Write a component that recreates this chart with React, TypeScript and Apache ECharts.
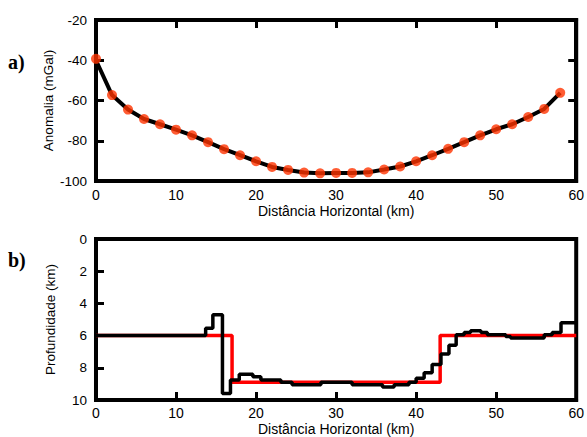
import React, { useEffect, useRef } from "react";
import * as echarts from "echarts";

// Panel a) — observed gravity anomaly (mGal) at horizontal distance (km)
const obsDist = [0, 2, 4, 6, 8, 10, 12, 14, 16, 18, 20, 22, 24, 26, 28, 30, 32, 34, 36, 38, 40, 42, 44, 46, 48, 50, 52, 54, 56, 58];
const obsAnomaly = [-39.3, -57.3, -64.5, -69.2, -71.8, -74.5, -77.3, -80.7, -84.2, -87.2, -90.2, -93, -94.5, -95.8, -96.2, -96, -96, -95.7, -94.3, -92.8, -90.2, -87.2, -84, -80.7, -77.3, -74.3, -71.8, -68.2, -64.2, -56.2];
const calcAnomaly = [-40, -57.3, -64.5, -69.2, -71.8, -74.5, -77.3, -80.7, -84.2, -87.2, -90.2, -93, -94.5, -95.8, -96.2, -96, -96, -95.7, -94.3, -92.8, -90.2, -87.2, -84, -80.7, -77.3, -74.3, -71.8, -68.2, -64.2, -56.2];

// Panel b) — depth models (km), piecewise constant between edges
const trueEdges = [0, 17, 43, 60];
const trueDepth = [6, 8.9, 6];
const invEdges = [0, 13.7, 14.6, 15.8, 16.8, 17.9, 19.6, 20.6, 23.1, 24.5, 28.1, 32, 35.8, 37.25, 39.1, 40, 41, 42, 43.1, 44.1, 45, 46, 46.8, 48.1, 48.9, 51.2, 51.8, 56, 57, 58.1, 60];
const invDepth = [6, 5.55, 4.7, 9.6, 8.75, 8.4, 8.55, 8.75, 8.9, 9.05, 8.9, 9.05, 9.2, 9.05, 8.9, 8.65, 8.3, 7.8, 7.15, 6.6, 5.95, 5.8, 5.7, 5.8, 5.95, 6.05, 6.15, 5.95, 5.8, 5.2];

const xTickLabels = ["0", "10", "20", "30", "40", "50", "60"];

function stepPoints(edges: number[], depths: number[]) {
  const pts: number[][] = [];
  for (let i = 0; i < depths.length; i++) {
    pts.push([edges[i], depths[i]]);
    pts.push([edges[i + 1], depths[i]]);
  }
  return pts;
}

const FONT = 'Arial, "Liberation Sans", sans-serif';

export default function App() {
  const ref = useRef<HTMLDivElement>(null);
  useEffect(() => {
    if (!ref.current) return;
    const chart = echarts.init(ref.current, null, { renderer: "svg" });
    const xLabel = { color: "#000", fontSize: 14, fontFamily: FONT };
    const yLabel = { color: "#000", fontSize: 13.5, fontFamily: FONT };
    const tick = () => ({ show: true, inside: true, length: 8, lineStyle: { color: "#000", width: 3 } });
    const lineOn = () => ({ show: true, onZero: false, lineStyle: { color: "#000", width: 4 } });
    const option: any = {
      animation: false,
      backgroundColor: "#fff",
      grid: [
        { left: 96, top: 20, width: 481, height: 161, show: true, borderColor: "#000", borderWidth: 4, backgroundColor: "transparent" },
        { left: 96, top: 239, width: 481, height: 162, show: true, borderColor: "#000", borderWidth: 4, backgroundColor: "transparent" },
      ],
      xAxis: [
        {
          type: "value", min: 0, max: 60, interval: 10, splitLine: { show: false },
          gridIndex: 0,
          position: "bottom",
          axisLine: lineOn(),
          axisTick: { show: false },
          axisLabel: { ...xLabel, margin: 7, formatter: (v: number) => xTickLabels[Math.round(v / 10)] },
          name: "Distância Horizontal (km)",
          nameLocation: "middle",
          nameGap: 23,
          nameMoveOverlap: false,
          nameTextStyle: xLabel,
        },
        {
          type: "value", min: 0, max: 60, interval: 10, splitLine: { show: false },
          gridIndex: 0,
          position: "top",
          axisLine: lineOn(),
          axisTick: tick(),
          axisLabel: { show: false },
        },
        {
          type: "value", min: 0, max: 60, interval: 10, splitLine: { show: false },
          gridIndex: 1,
          position: "bottom",
          axisLine: lineOn(),
          axisTick: tick(),
          axisLabel: { ...xLabel, margin: 6, formatter: (v: number) => xTickLabels[Math.round(v / 10)] },
          name: "Distância Horizontal (km)",
          nameLocation: "middle",
          nameGap: 22,
          nameMoveOverlap: false,
          nameTextStyle: xLabel,
        },
      ],
      yAxis: [
        {
          type: "value",
          gridIndex: 0,
          position: "left",
          min: -100,
          max: -20,
          interval: 20,
          splitLine: { show: false },
          axisLine: lineOn(),
          axisTick: tick(),
          axisLabel: { ...yLabel, margin: 9 },
          name: "Anomalia (mGal)",
          nameLocation: "middle",
          nameGap: 41,
          nameMoveOverlap: false,
          nameTextStyle: yLabel,
        },
        {
          type: "value",
          gridIndex: 0,
          position: "right",
          min: -100,
          max: -20,
          interval: 20,
          splitLine: { show: false },
          axisLine: lineOn(),
          axisTick: tick(),
          axisLabel: { show: false },
        },
        {
          type: "value",
          gridIndex: 1,
          position: "left",
          inverse: true,
          min: 0,
          max: 10,
          interval: 2,
          splitLine: { show: false },
          axisLine: lineOn(),
          axisTick: tick(),
          axisLabel: { ...yLabel, margin: 9 },
          name: "Profundidade (km)",
          nameLocation: "middle",
          nameGap: 39,
          nameMoveOverlap: false,
          nameTextStyle: yLabel,
        },
      ],
      series: [
        {
          type: "line",
          xAxisIndex: 0,
          yAxisIndex: 0,
          data: obsDist.map((d, i) => [d, calcAnomaly[i]]),
          symbol: "none",
          lineStyle: { color: "#000", width: 4 },
          z: 2,
        },
        {
          type: "scatter",
          xAxisIndex: 0,
          yAxisIndex: 0,
          data: obsDist.map((d, i) => [d, obsAnomaly[i]]),
          symbol: "circle",
          symbolSize: 10,
          itemStyle: { color: "#ff3300" },
          z: 3,
        },
        {
          type: "line",
          xAxisIndex: 2,
          yAxisIndex: 2,
          data: stepPoints(trueEdges, trueDepth),
          symbol: "none",
          lineStyle: { color: "#ff0000", width: 3.5 },
          z: 2,
        },
        {
          type: "line",
          xAxisIndex: 2,
          yAxisIndex: 2,
          data: stepPoints(invEdges, invDepth),
          symbol: "none",
          lineStyle: { color: "#000", width: 3.5 },
          z: 3,
        },
      ],
      graphic: [
        { type: "text", left: 8, top: 52, style: { text: "a)", fontSize: 20, fontWeight: "bold", fontFamily: '"Times New Roman", "Liberation Serif", serif', fill: "#000" } },
        { type: "text", left: 8, top: 250, style: { text: "b)", fontSize: 20, fontWeight: "bold", fontFamily: '"Times New Roman", "Liberation Serif", serif', fill: "#000" } },
      ],
    };
    chart.setOption(option);
    return () => chart.dispose();
  }, []);
  return (
    <div
      ref={ref}
      style={{ position: "fixed", left: 0, top: 0, width: 587, height: 437, background: "#fff" }}
    />
  );
}
